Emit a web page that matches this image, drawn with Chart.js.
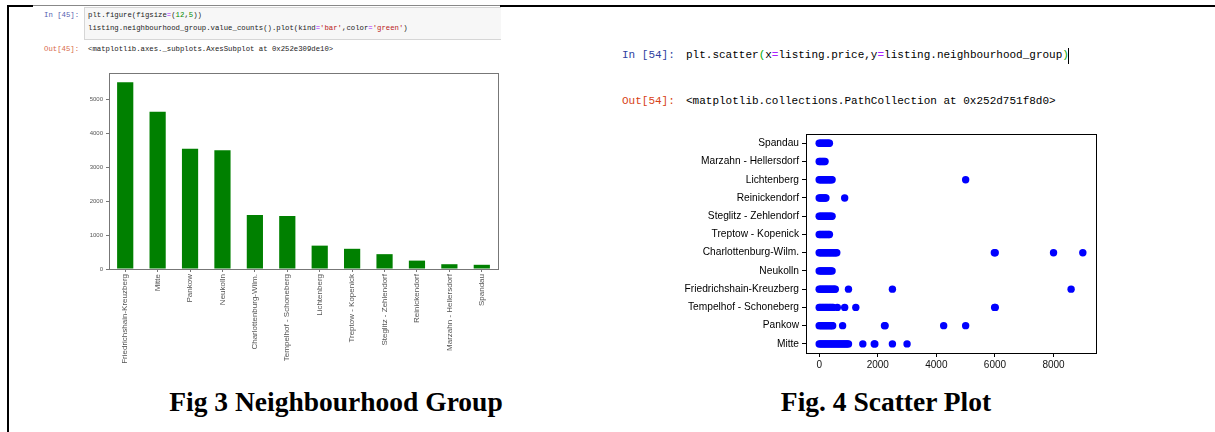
<!DOCTYPE html>
<html><head><meta charset="utf-8">
<script src="https://cdn.jsdelivr.net/npm/chart.js@4.4.1/dist/chart.umd.min.js"></script>
<style>
html,body{margin:0;padding:0;background:#fff}
body{width:1215px;height:432px;position:relative;overflow:hidden;font-family:'Liberation Sans',Arial,sans-serif}
.a{position:absolute;white-space:pre}
.mono{font-family:'Liberation Mono','DejaVu Sans Mono',monospace}
.kw{color:#AA22FF}.num{color:#008800}.str{color:#BA2121}.br{color:#00aa00}
.cap{font-family:'Liberation Serif',serif;font-weight:bold;font-size:27.5px;color:#000;transform:translate(-50%,-50%)}
</style></head>
<body>
<!-- page frame lines -->
<div class="a" style="left:7px;top:5px;width:1208px;height:2px;background:#000"></div>
<div class="a" style="left:7px;top:5px;width:2px;height:427px;background:#000"></div>
<!-- left screenshot -->
<div class="a" style="left:33px;top:5px;width:467px;height:372px;background:#fff;border-top:1px solid #888"></div>
<div class="a" style="left:84px;top:7px;width:416px;height:31px;background:#f7f7f7;border:1px solid #d6d6d6;border-right:none"></div>
<div class="a mono" style="left:44px;top:11px;font-size:7.3px;color:#5560b0">In [45]:</div>
<div class="a mono" style="left:88px;top:11px;font-size:7.3px;color:#222">plt.figure(figsize<span class="kw">=</span>(<span class="num">12</span>,<span class="num">5</span>))</div>
<div class="a mono" style="left:88px;top:24px;font-size:7.3px;color:#222">listing.neighbourhood_group.value_counts().plot(kind<span class="kw">=</span><span class="str">'bar'</span>,color<span class="kw">=</span><span class="str">'green'</span>)</div>
<div class="a mono" style="left:44px;top:45px;font-size:7.3px;color:#d86a4a">Out[45]:</div>
<div class="a mono" style="left:88px;top:45px;font-size:7.3px;color:#222">&lt;matplotlib.axes._subplots.AxesSubplot at 0x252e309de10&gt;</div>
<!-- right screenshot text -->
<div class="a mono" style="left:622px;top:49px;font-size:11px;color:#303F9F">In [54]:</div>
<div class="a mono" style="left:686px;top:49px;font-size:11px;color:#000">plt.scatter<span class="br">(</span>x<span class="kw">=</span>listing.price,y<span class="kw">=</span>listing.neighbourhood_group<span class="br">)</span></div>
<div class="a" style="left:1068px;top:48px;width:1px;height:16px;background:#000"></div>
<div class="a mono" style="left:622px;top:95px;font-size:11px;color:#D84315">Out[54]:</div>
<div class="a mono" style="left:686px;top:95px;font-size:11px;color:#000">&lt;matplotlib.collections.PathCollection at 0x252d751f8d0&gt;</div>

<canvas id="c1" class="a" width="450" height="310" style="left:60px;top:65px"></canvas>
<canvas id="c2" class="a" width="430" height="260" style="left:680px;top:125px"></canvas>

<div class="a cap" style="left:336px;top:402px">Fig 3 Neighbourhood Group</div>
<div class="a cap" style="left:886px;top:402px">Fig. 4 Scatter Plot</div>

<script>
// ---- Fig 3 data ----
const barCategories = ['Friedrichshain-Kreuzberg','Mitte','Pankow','Neukolln','Charlottenburg-Wilm.','Tempelhof - Schoneberg','Lichtenberg','Treptow - Kopenick','Steglitz - Zehlendorf','Reinickendorf','Marzahn - Hellersdorf','Spandau'];
const barCounts = [5497,4631,3541,3499,1592,1560,688,595,437,247,141,124];
const barYTicks = [0,1000,2000,3000,4000,5000];

// ---- Fig 4 data (top to bottom) ----
const scatterCategories = ['Spandau','Marzahn - Hellersdorf','Lichtenberg','Reinickendorf','Steglitz - Zehlendorf','Treptow - Kopenick','Charlottenburg-Wilm.','Neukolln','Friedrichshain-Kreuzberg','Tempelhof - Schoneberg','Pankow','Mitte'];
const priceSpandau = [0,40,80,120,160,200,240,280,320,350];
const priceMarzahn = [0,40,80,120,160,200];
const priceLichtenberg = [0,40,80,120,160,200,240,280,320,360,400,440,5000];
const priceReinickendorf = [0,40,80,120,160,200,230,870];
const priceSteglitz = [0,40,80,120,160,200,240,280,320,360,400,440];
const priceTreptow = [0,40,80,120,160,200,240,280,320,350];
const priceCharlottenburg = [0,40,80,120,160,200,240,280,320,360,400,440,480,520,560,600,5980,6010,8000,9000];
const priceNeukolln = [0,40,80,120,160,200,240,280,320,360,400,440];
const priceFriedrichshain = [0,40,80,120,160,200,240,280,320,360,400,440,480,520,550,1000,2500,8600];
const priceTempelhof = [0,40,80,120,160,200,240,280,320,360,400,440,480,620,870,1250,5990,6010];
const pricePankow = [0,40,80,120,160,200,240,280,320,360,400,440,460,800,2230,2250,4250,5000];
const priceMitte = [0,40,80,120,160,200,240,280,320,360,400,440,480,520,560,600,640,680,720,760,800,840,880,920,960,1000,1490,1880,1900,2500,3000];
const scatterXTicks = [0,2000,4000,6000,8000];

const pricesByCategory = [priceSpandau,priceMarzahn,priceLichtenberg,priceReinickendorf,priceSteglitz,priceTreptow,priceCharlottenburg,priceNeukolln,priceFriedrichshain,priceTempelhof,pricePankow,priceMitte];

const framePlugin = {
  id:'frame',
  afterDraw(chart, args, opts){
    const a = chart.chartArea, c = chart.ctx;
    c.save(); c.strokeStyle = opts.color; c.lineWidth = 1;
    c.strokeRect(Math.round(a.left)+0.5, Math.round(a.top)+0.5, Math.round(a.right-a.left), Math.round(a.bottom-a.top));
    c.restore();
  }
};

new Chart(document.getElementById('c1'), {
  type:'bar',
  data:{labels:barCategories, datasets:[{data:barCounts, backgroundColor:'#008000', barPercentage:0.5, categoryPercentage:1}]},
  options:{
    responsive:false, animation:false, devicePixelRatio:1,
    layout:{padding:{top:8,right:12,left:0,bottom:0}},
    plugins:{legend:{display:false}, tooltip:{enabled:false}, frame:{color:'#777'}},
    scales:{
      x:{type:'category', offset:true,
         grid:{display:true, drawOnChartArea:false, offset:false, tickLength:3, color:'#777'},
         border:{color:'#777'},
         ticks:{autoSkip:false, maxRotation:90, minRotation:90, padding:2, color:'#555', font:{family:'Liberation Sans', size:8}},
         afterFit(s){ s.height = 106; }},
      y:{min:0, max:5772,
         afterBuildTicks(s){ s.ticks = barYTicks.map(v=>({value:v})); },
         grid:{display:true, drawOnChartArea:false, tickLength:3, color:'#777'},
         border:{color:'#777'},
         ticks:{padding:3, color:'#555', font:{family:'Liberation Sans', size:6}, callback:v=>String(v)},
         afterFit(s){ s.width = 49; }}
    }
  },
  plugins:[framePlugin]
});

const scatterData = [];
scatterCategories.forEach((cat,i)=>pricesByCategory[i].forEach(p=>scatterData.push({x:p, y:cat})));

new Chart(document.getElementById('c2'), {
  type:'scatter',
  data:{datasets:[{data:scatterData, pointRadius:3.7, pointBackgroundColor:'#0000ff', pointBorderWidth:0, borderWidth:0}]},
  options:{
    responsive:false, animation:false, devicePixelRatio:1,
    layout:{padding:{top:7,right:14,left:0,bottom:0}},
    plugins:{legend:{display:false}, tooltip:{enabled:false}, frame:{color:'#000'}},
    scales:{
      x:{type:'linear', min:-450, max:9450,
         afterBuildTicks(s){ s.ticks = scatterXTicks.map(v=>({value:v})); },
         grid:{display:true, drawOnChartArea:false, tickLength:4, color:'#000'},
         border:{color:'#000'},
         ticks:{padding:2, color:'#111', font:{family:'Liberation Sans', size:10}, callback:v=>String(v)},
         afterFit(s){ s.height = 32; }},
      y:{type:'category', labels:scatterCategories, offset:true,
         grid:{display:true, drawOnChartArea:false, offset:false, tickLength:4, color:'#000'},
         border:{color:'#000'},
         ticks:{autoSkip:false, padding:3, color:'#000', font:{family:'Liberation Sans', size:10.2}},
         afterFit(s){ s.width = 126; }}
    }
  },
  plugins:[framePlugin]
});
</script>
</body></html>
